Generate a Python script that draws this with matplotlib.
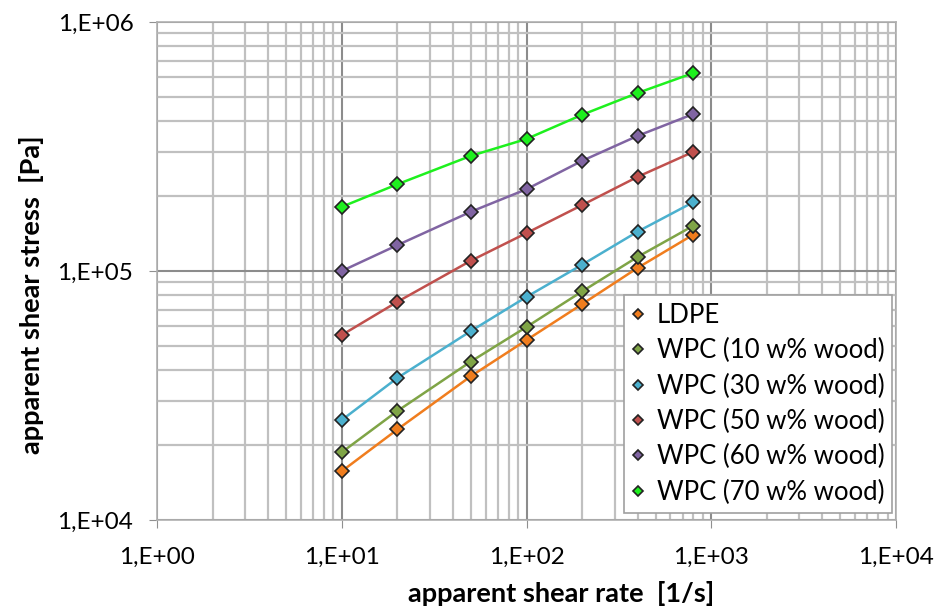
import matplotlib
matplotlib.use('Agg')
from matplotlib import pyplot as plt
from matplotlib.ticker import LogLocator, FixedLocator, NullFormatter

plt.rcParams['font.family'] = ['Lato', 'DejaVu Sans']

shear_rate = [10, 20, 50, 100, 200, 400, 800]

ldpe = [1.57e4, 2.31e4, 3.78e4, 5.28e4, 7.36e4, 1.03e5, 1.40e5]
wpc_10 = [1.87e4, 2.74e4, 4.33e4, 5.96e4, 8.28e4, 1.14e5, 1.52e5]
wpc_30 = [2.52e4, 3.72e4, 5.74e4, 7.87e4, 1.06e5, 1.44e5, 1.89e5]
wpc_50 = [5.53e4, 7.52e4, 1.10e5, 1.42e5, 1.84e5, 2.39e5, 3.01e5]
wpc_60 = [1.00e5, 1.27e5, 1.73e5, 2.13e5, 2.77e5, 3.49e5, 4.27e5]
wpc_70 = [1.81e5, 2.23e5, 2.90e5, 3.39e5, 4.24e5, 5.19e5, 6.24e5]

labels = ['LDPE', 'WPC (10 w% wood)', 'WPC (30 w% wood)',
          'WPC (50 w% wood)', 'WPC (60 w% wood)', 'WPC (70 w% wood)']
colors = ['#F07D1E', '#7FA446', '#4BB0CE', '#C0504D', '#8064A2', '#1EF01E']
series = [ldpe, wpc_10, wpc_30, wpc_50, wpc_60, wpc_70]

fig = plt.figure(figsize=(9.39, 6.12), dpi=100)
ax = fig.add_axes([157/939, 1 - 520/612, (896-157)/939, (520-22)/612])

for s, c, lab in zip(series, colors, labels):
    ax.plot(shear_rate, s, color=c, lw=1.8, marker='D', ms=7,
            markerfacecolor=c, markeredgecolor='#222222', markeredgewidth=1.2,
            label=lab, zorder=3)

ax.set_xscale('log')
ax.set_yscale('log')
ax.set_xlim(1, 1e4)
ax.set_ylim(1e4, 1e6)

ax.xaxis.set_major_locator(FixedLocator([1, 10, 100, 1000, 10000]))
ax.yaxis.set_major_locator(FixedLocator([1e4, 1e5, 1e6]))
ax.xaxis.set_minor_locator(LogLocator(base=10, subs=range(2, 10), numticks=20))
ax.yaxis.set_minor_locator(LogLocator(base=10, subs=range(2, 10), numticks=20))
ax.xaxis.set_minor_formatter(NullFormatter())
ax.yaxis.set_minor_formatter(NullFormatter())
ax.set_xticklabels(['1,E+00', '1,E+01', '1,E+02', '1,E+03', '1,E+04'])
ax.set_yticklabels(['1,E+04', '1,E+05', '1,E+06'])

ax.grid(which='major', color='#8c8c8c', lw=1.5)
ax.grid(which='minor', color='#c0c0c0', lw=1.6)
ax.set_axisbelow(True)
for sp in ax.spines.values():
    sp.set_color('#b0b0b0')
    sp.set_linewidth(1.2)
ax.tick_params(which='major', length=6, color='#909090', labelsize=17.5)
ax.tick_params(axis='y', which='major', pad=11)
ax.tick_params(axis='x', which='major', pad=13)
ax.tick_params(which='minor', length=0)

ax.set_xlabel('apparent shear rate  [1/s]', fontsize=19.5, fontweight='bold',
              labelpad=10, x=0.547)
ax.set_ylabel('apparent shear stress  [Pa]', fontsize=19.5, fontweight='bold',
              labelpad=10, y=0.452)

leg = ax.legend(loc='lower right', fontsize=18.5, frameon=True, fancybox=False,
                edgecolor='#a0a0a0', framealpha=1, borderpad=0.3,
                handlelength=0.5, handletextpad=0.5, labelspacing=0.4,
                markerscale=0.8, borderaxespad=0, bbox_to_anchor=(0.995, 0.015))
for h in leg.get_lines():
    h.set_linestyle('none')
leg.get_frame().set_linewidth(1.2)

fig.savefig('out.png', dpi=100)
